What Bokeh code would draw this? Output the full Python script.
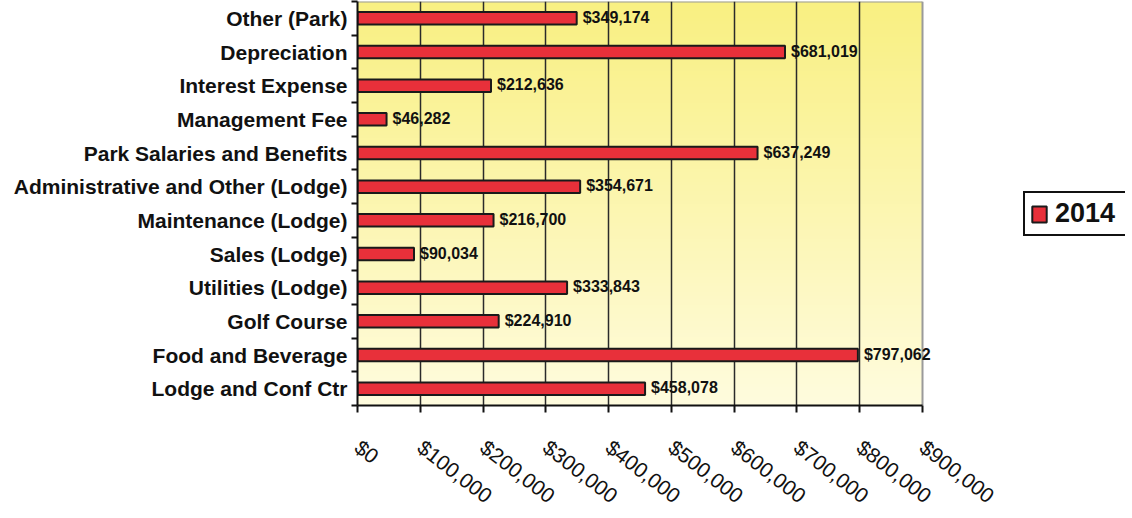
import numpy as np
from bokeh.plotting import figure
from bokeh.models import FixedTicker, Range1d, ColumnDataSource, Legend, LegendItem, LabelSet
from bokeh.core.properties import value
from bokeh.embed import file_html
from bokeh.resources import INLINE

# ---- data (bottom to top) ----
categories = [
    "Lodge and Conf Ctr",
    "Food and Beverage",
    "Golf Course",
    "Utilities (Lodge)",
    "Sales (Lodge)",
    "Maintenance (Lodge)",
    "Administrative and Other (Lodge)",
    "Park Salaries and Benefits",
    "Management Fee",
    "Interest Expense",
    "Depreciation",
    "Other (Park)",
]
values_2014 = [458078, 797062, 224910, 333843, 90034, 216700, 354671, 637249, 46282, 212636, 681019, 349174]
series_name = "2014"
x_ticks = [0, 100000, 200000, 300000, 400000, 500000, 600000, 700000, 800000, 900000]
x_tick_labels = ["$0", "$100,000", "$200,000", "$300,000", "$400,000", "$500,000",
                 "$600,000", "$700,000", "$800,000", "$900,000"]

FONT = "Liberation Sans"
n = len(categories)
centers = [i + 0.5 for i in range(n)]
x_max = x_ticks[-1]

# layout (pixels)
AREA_W = 565          # width of the chart area (0 .. x_max)
FRAME_W = 768         # frame also holds the legend region on the right
x_end = x_max * FRAME_W / AREA_W

src = ColumnDataSource(dict(
    y=centers,
    v=values_2014,
    lab=[f"${v:,}" for v in values_2014],
))

p = figure(frame_width=FRAME_W, frame_height=404, output_backend="svg", toolbar_location=None,
           x_range=Range1d(0, x_end), y_range=Range1d(0, n),
           min_border_left=357, min_border_right=0, min_border_top=1, min_border_bottom=102)

# gradient background of the chart area (decoration)
rows = 128
t = np.linspace(0, 1, rows)  # 0 bottom, 1 top
bottom_c = np.array([255, 252, 222])
top_c = np.array([249, 240, 130])
img = np.zeros((rows, 2), dtype=np.uint32)
view = img.view(dtype=np.uint8).reshape((rows, 2, 4))
for i in range(rows):
    c = bottom_c + (top_c - bottom_c) * t[i]
    view[i, :, 0] = int(c[0]); view[i, :, 1] = int(c[1]); view[i, :, 2] = int(c[2]); view[i, :, 3] = 255
p.image_rgba(image=[img], x=0, y=0, dw=x_max, dh=n, level="image")

# chart-area border (top and right, grey)
p.segment(x0=[0, x_max], y0=[n, 0], x1=[x_max, x_max], y1=[n, n],
          line_color="#9a9a9a", line_width=2, level="underlay")

bars = p.hbar(y="y", left=0, right="v", height=0.37, source=src,
              fill_color="#e8303a", line_color="#1a1a1a", line_width=2)

labels = LabelSet(x="v", y="y", text="lab", source=src, x_offset=6, y_offset=1,
                  text_font=value(FONT), text_font_style="bold", text_font_size="16px",
                  text_baseline="middle", text_align="left", text_color="#111111")
p.add_layout(labels)

# axes
p.xaxis.ticker = FixedTicker(ticks=x_ticks)
p.xaxis.bounds = (0, x_max)
p.xaxis.major_label_overrides = {t_: l for t_, l in zip(x_ticks, x_tick_labels)}
p.xaxis.major_label_orientation = -0.66
p.xaxis.major_label_text_font = FONT
p.xaxis.major_label_text_font_size = "21px"
p.xaxis.major_label_text_color = "#111111"
p.xaxis.major_label_standoff = 32
p.xaxis.axis_line_color = "#111111"
p.xaxis.axis_line_width = 2
p.xaxis.major_tick_line_color = "#111111"
p.xaxis.major_tick_line_width = 2
p.xaxis.major_tick_out = 7
p.xaxis.major_tick_in = 0
p.xaxis.minor_tick_line_color = None

p.yaxis.ticker = FixedTicker(ticks=centers, minor_ticks=list(range(n + 1)))
p.yaxis.major_label_overrides = {c: name for c, name in zip(centers, categories)}
p.yaxis.major_label_text_font = FONT
p.yaxis.major_label_text_font_style = "bold"
p.yaxis.major_label_text_font_size = "21px"
p.yaxis.major_label_text_color = "#111111"
p.yaxis.major_label_standoff = 4
p.yaxis.major_tick_line_color = None
p.yaxis.major_tick_out = 0
p.yaxis.major_tick_in = 0
p.yaxis.minor_tick_line_color = "#111111"
p.yaxis.minor_tick_line_width = 2
p.yaxis.minor_tick_out = 6
p.yaxis.minor_tick_in = 0
p.yaxis.axis_line_color = "#111111"
p.yaxis.axis_line_width = 2

p.xgrid.ticker = FixedTicker(ticks=x_ticks[1:-1])
p.xgrid.grid_line_color = "#2a2a2a"
p.xgrid.grid_line_width = 1.5
p.ygrid.grid_line_color = None

p.outline_line_color = None
p.background_fill_color = "white"
p.border_fill_color = "white"

legend = Legend(items=[LegendItem(label=series_name, renderers=[bars])],
                location=(666, 169), orientation="vertical",
                label_text_font=FONT, label_text_font_style="bold", label_text_font_size="27px",
                label_text_color="#111111", glyph_width=18, glyph_height=20,
                label_standoff=7, label_width=72, padding=5, margin=0, spacing=0,
                border_line_color="#111111", border_line_width=2, border_line_alpha=1.0,
                background_fill_color="white", background_fill_alpha=1.0)
p.add_layout(legend, "center")

open("out.html", "w").write(file_html(p, INLINE))
